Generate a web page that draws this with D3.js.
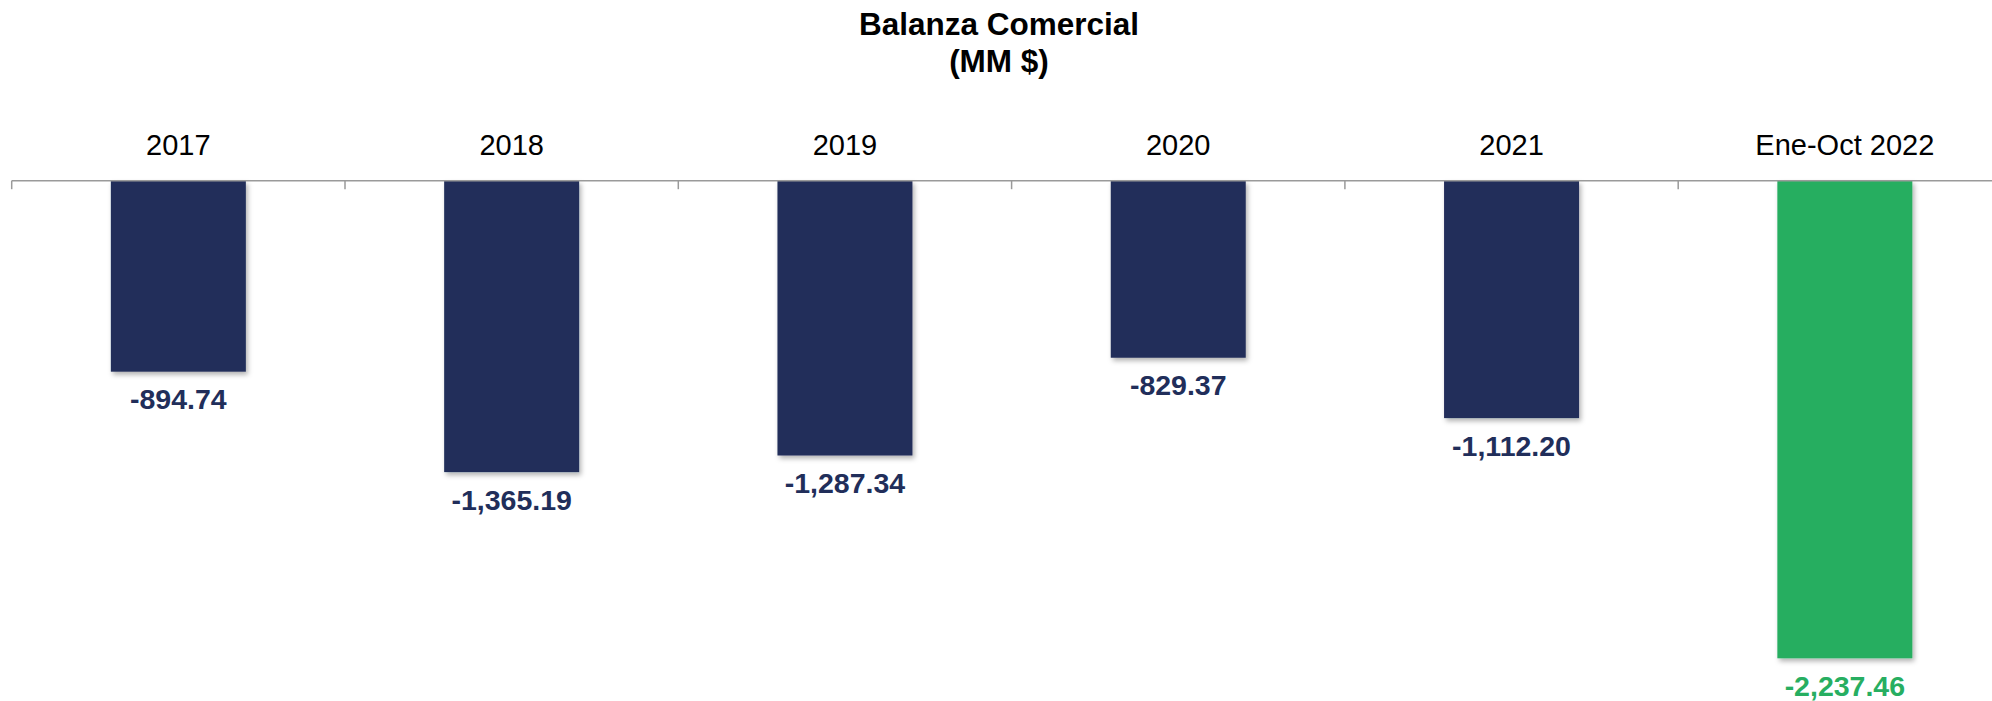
<!DOCTYPE html>
<html>
<head>
<meta charset="utf-8">
<script src="https://cdn.jsdelivr.net/npm/d3@7"></script>
<style>
  body { margin: 0; background: #fff; }
  text { font-family: "Liberation Sans", Arial, sans-serif; }
</style>
</head>
<body>
<div id="chart"></div>
<script>
var width = 1992;
var height = 701;

// data
var categories = ["2017", "2018", "2019", "2020", "2021", "Ene-Oct 2022"];
var values = [-894.74, -1365.19, -1287.34, -829.37, -1112.20, -2237.46];
var labels = ["-894.74", "-1,365.19", "-1,287.34", "-829.37", "-1,112.20", "-2,237.46"];
var barColors = ["#212e5a", "#212e5a", "#212e5a", "#212e5a", "#212e5a", "#27ae61"];

var svg = d3.select("#chart")
    .append("svg")
    .attr("width", width)
    .attr("height", height);

// soft shadow under bars
var defs = svg.append("defs");
defs.append("filter")
    .attr("id", "shadow")
    .attr("x", "-10%").attr("y", "-10%")
    .attr("width", "130%").attr("height", "130%")
    .append("feDropShadow")
    .attr("dx", 2)
    .attr("dy", 3)
    .attr("stdDeviation", 2.5)
    .attr("flood-color", "#000")
    .attr("flood-opacity", 0.3);

var x = d3.scaleBand()
    .domain(categories)
    .range([11.7, 11.7 + 6 * 333.3])
    .padding(0);

var y = d3.scaleLinear()
    .domain([0, -2237.46])
    .range([180.7, 658.3]);

var barW = x.bandwidth() * 0.405;

// title
svg.append("text")
    .attr("x", 999)
    .attr("y", 35)
    .attr("text-anchor", "middle")
    .attr("font-weight", "bold")
    .attr("font-size", "31.5px")
    .text("Balanza Comercial");

svg.append("text")
    .attr("x", 999)
    .attr("y", 72)
    .attr("text-anchor", "middle")
    .attr("font-weight", "bold")
    .attr("font-size", "31.5px")
    .text("(MM $)");

// bars
svg.selectAll(".bar")
    .data(values)
    .enter()
    .append("rect")
    .attr("class", "bar")
    .attr("x", function(d, i) { return x(categories[i]) + (x.bandwidth() - barW) / 2; })
    .attr("y", y(0))
    .attr("width", barW)
    .attr("height", function(d) { return y(d) - y(0); })
    .attr("fill", function(d, i) { return barColors[i]; })
    .attr("filter", "url(#shadow)");

// axis line with ticks at band edges
var axis = d3.axisBottom(x).tickSize(0).tickFormat("");
var gAxis = svg.append("g")
    .attr("transform", "translate(0," + y(0) + ")")
    .call(axis);
gAxis.select(".domain").remove();

gAxis.append("line")
    .attr("x1", x.range()[0])
    .attr("x2", x.range()[1])
    .attr("y1", 0)
    .attr("y2", 0)
    .attr("stroke", "#9a9a9a")
    .attr("stroke-width", 1.5);

gAxis.selectAll(".edge")
    .data(categories)
    .enter()
    .append("line")
    .attr("class", "edge")
    .attr("x1", function(d) { return x(d); })
    .attr("x2", function(d) { return x(d); })
    .attr("y1", 0)
    .attr("y2", 8.5)
    .attr("stroke", "#9a9a9a")
    .attr("stroke-width", 1.5);

// category labels above axis
svg.selectAll(".cat")
    .data(categories)
    .enter()
    .append("text")
    .attr("class", "cat")
    .attr("x", function(d) { return x(d) + x.bandwidth() / 2; })
    .attr("y", 155)
    .attr("text-anchor", "middle")
    .attr("font-size", "29px")
    .attr("fill", "#000")
    .text(function(d) { return d; });

// value labels under bars
svg.selectAll(".val")
    .data(values)
    .enter()
    .append("text")
    .attr("class", "val")
    .attr("x", function(d, i) { return x(categories[i]) + x.bandwidth() / 2; })
    .attr("y", function(d) { return y(d) + 37.5; })
    .attr("text-anchor", "middle")
    .attr("font-size", "28.5px")
    .attr("font-weight", "bold")
    .attr("fill", function(d, i) { return barColors[i]; })
    .text(function(d, i) { return labels[i]; });
</script>
</body>
</html>
